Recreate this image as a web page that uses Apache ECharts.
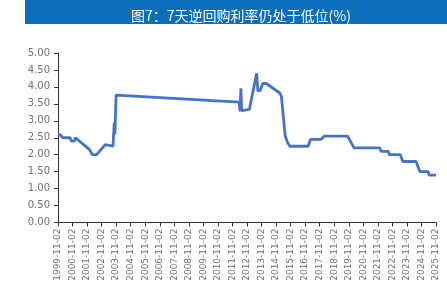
<!DOCTYPE html>
<html>
<head>
<meta charset="utf-8">
<script src="https://cdn.jsdelivr.net/npm/echarts@6/dist/echarts.min.js"></script>
<style>
  html, body { margin: 0; padding: 0; background: #fff; }
  #chart { width: 447px; height: 288px; }
</style>
</head>
<body>
<div id="chart"></div>
<script>
// 7天逆回购利率 (%), 按日期
const dates = [
  '1999-11-02', '2000-01-01', '2000-03-01', '2000-09-01', '2000-10-01', '2000-12-15',
  '2001-01-15', '2001-03-01', '2002-01-01', '2002-02-01', '2002-03-15', '2002-07-01',
  '2003-02-01', '2003-08-15', '2003-09-01', '2003-09-15', '2003-10-01', '2003-11-01',
  '2012-04-20', '2012-05-10', '2012-06-01', '2012-06-20', '2012-08-01', '2013-01-01',
  '2013-07-01', '2013-08-01', '2013-10-01', '2013-12-01', '2014-03-01', '2015-02-01',
  '2015-03-15', '2015-06-20', '2015-07-20', '2015-08-20', '2015-10-15', '2017-01-15',
  '2017-03-15', '2017-12-01', '2018-03-01', '2019-10-01', '2019-11-15', '2020-03-15',
  '2021-12-20', '2022-01-20', '2022-07-20', '2022-08-20', '2023-05-20', '2023-06-20',
  '2023-07-20', '2024-06-20', '2024-07-20', '2024-08-25', '2024-09-25', '2025-04-20',
  '2025-05-10', '2025-11-02'
];
const rates = [
  2.60, 2.58, 2.50, 2.50, 2.40, 2.40,
  2.50, 2.50, 2.15, 2.15, 2.00, 2.00,
  2.30, 2.25, 2.25, 2.95, 2.60, 3.76,
  3.55, 3.28, 3.96, 3.30, 3.34, 3.34,
  4.40, 3.88, 3.90, 4.10, 4.10, 3.82,
  3.72, 2.55, 2.50, 2.35, 2.25, 2.25,
  2.45, 2.45, 2.55, 2.55, 2.50, 2.20,
  2.20, 2.10, 2.10, 2.00, 2.00, 1.90,
  1.80, 1.80, 1.70, 1.70, 1.50, 1.50,
  1.40, 1.40
];
const startYear = 1999;
const yearCount = 26;
const yTicks = ['0.00', '0.50', '1.00', '1.50', '2.00', '2.50', '3.00', '3.50', '4.00', '4.50', '5.00'];

// x 轴以 1999-11-02 起算的年数
const base = Date.UTC(1999, 10, 2);
function toYears(s) {
  const p = s.split('-').map(Number);
  return (Date.UTC(p[0], p[1] - 1, p[2]) - base) / (365.25 * 86400000);
}
const seriesData = dates.map((d, i) => [toYears(d), rates[i]]);

const chart = echarts.init(document.getElementById('chart'));
chart.setOption({
  animation: false,
  backgroundColor: '#fff',
  graphic: [
    {
      type: 'rect',
      shape: { x: 25, y: 0, width: 422, height: 24 },
      style: { fill: '#0a6ebd' }
    }
  ],
  title: {
    text: '图7：7天逆回购利率仍处于低位(%)',
    left: 236,
    top: 4,
    textAlign: 'center',
    textStyle: {
      color: '#fff',
      fontSize: 14,
      fontWeight: 'normal',
      fontFamily: 'Noto Sans CJK SC'
    }
  },
  grid: {
    left: 58,
    right: 11,
    top: 53,
    bottom: 65.5,
    containLabel: false
  },
  xAxis: {
    type: 'value',
    min: 0,
    max: yearCount,
    interval: 1,
    axisLine: { lineStyle: { color: '#333', width: 1 } },
    axisTick: { show: true, length: 4, lineStyle: { color: '#333' } },
    splitLine: { show: false },
    axisLabel: {
      rotate: 90,
      margin: 6,
      color: '#707070',
      fontSize: 9,
      fontFamily: 'DejaVu Sans',
      formatter: v => (startYear + Math.round(v)) + '-11-02'
    }
  },
  yAxis: {
    type: 'value',
    min: 0,
    max: 5,
    interval: 0.5,
    axisLine: { show: true, lineStyle: { color: '#333', width: 1 } },
    axisTick: { show: true, length: 4, lineStyle: { color: '#333' } },
    splitLine: { show: false },
    axisLabel: {
      margin: 8,
      color: '#707070',
      fontSize: 10,
      fontFamily: 'DejaVu Sans',
      formatter: v => yTicks[Math.round(v / 0.5)]
    }
  },
  series: [
    {
      name: '7天逆回购利率',
      type: 'line',
      data: seriesData,
      showSymbol: false,
      smooth: false,
      lineStyle: { color: '#4472c4', width: 2.8 }
    }
  ]
});
</script>
</body>
</html>
